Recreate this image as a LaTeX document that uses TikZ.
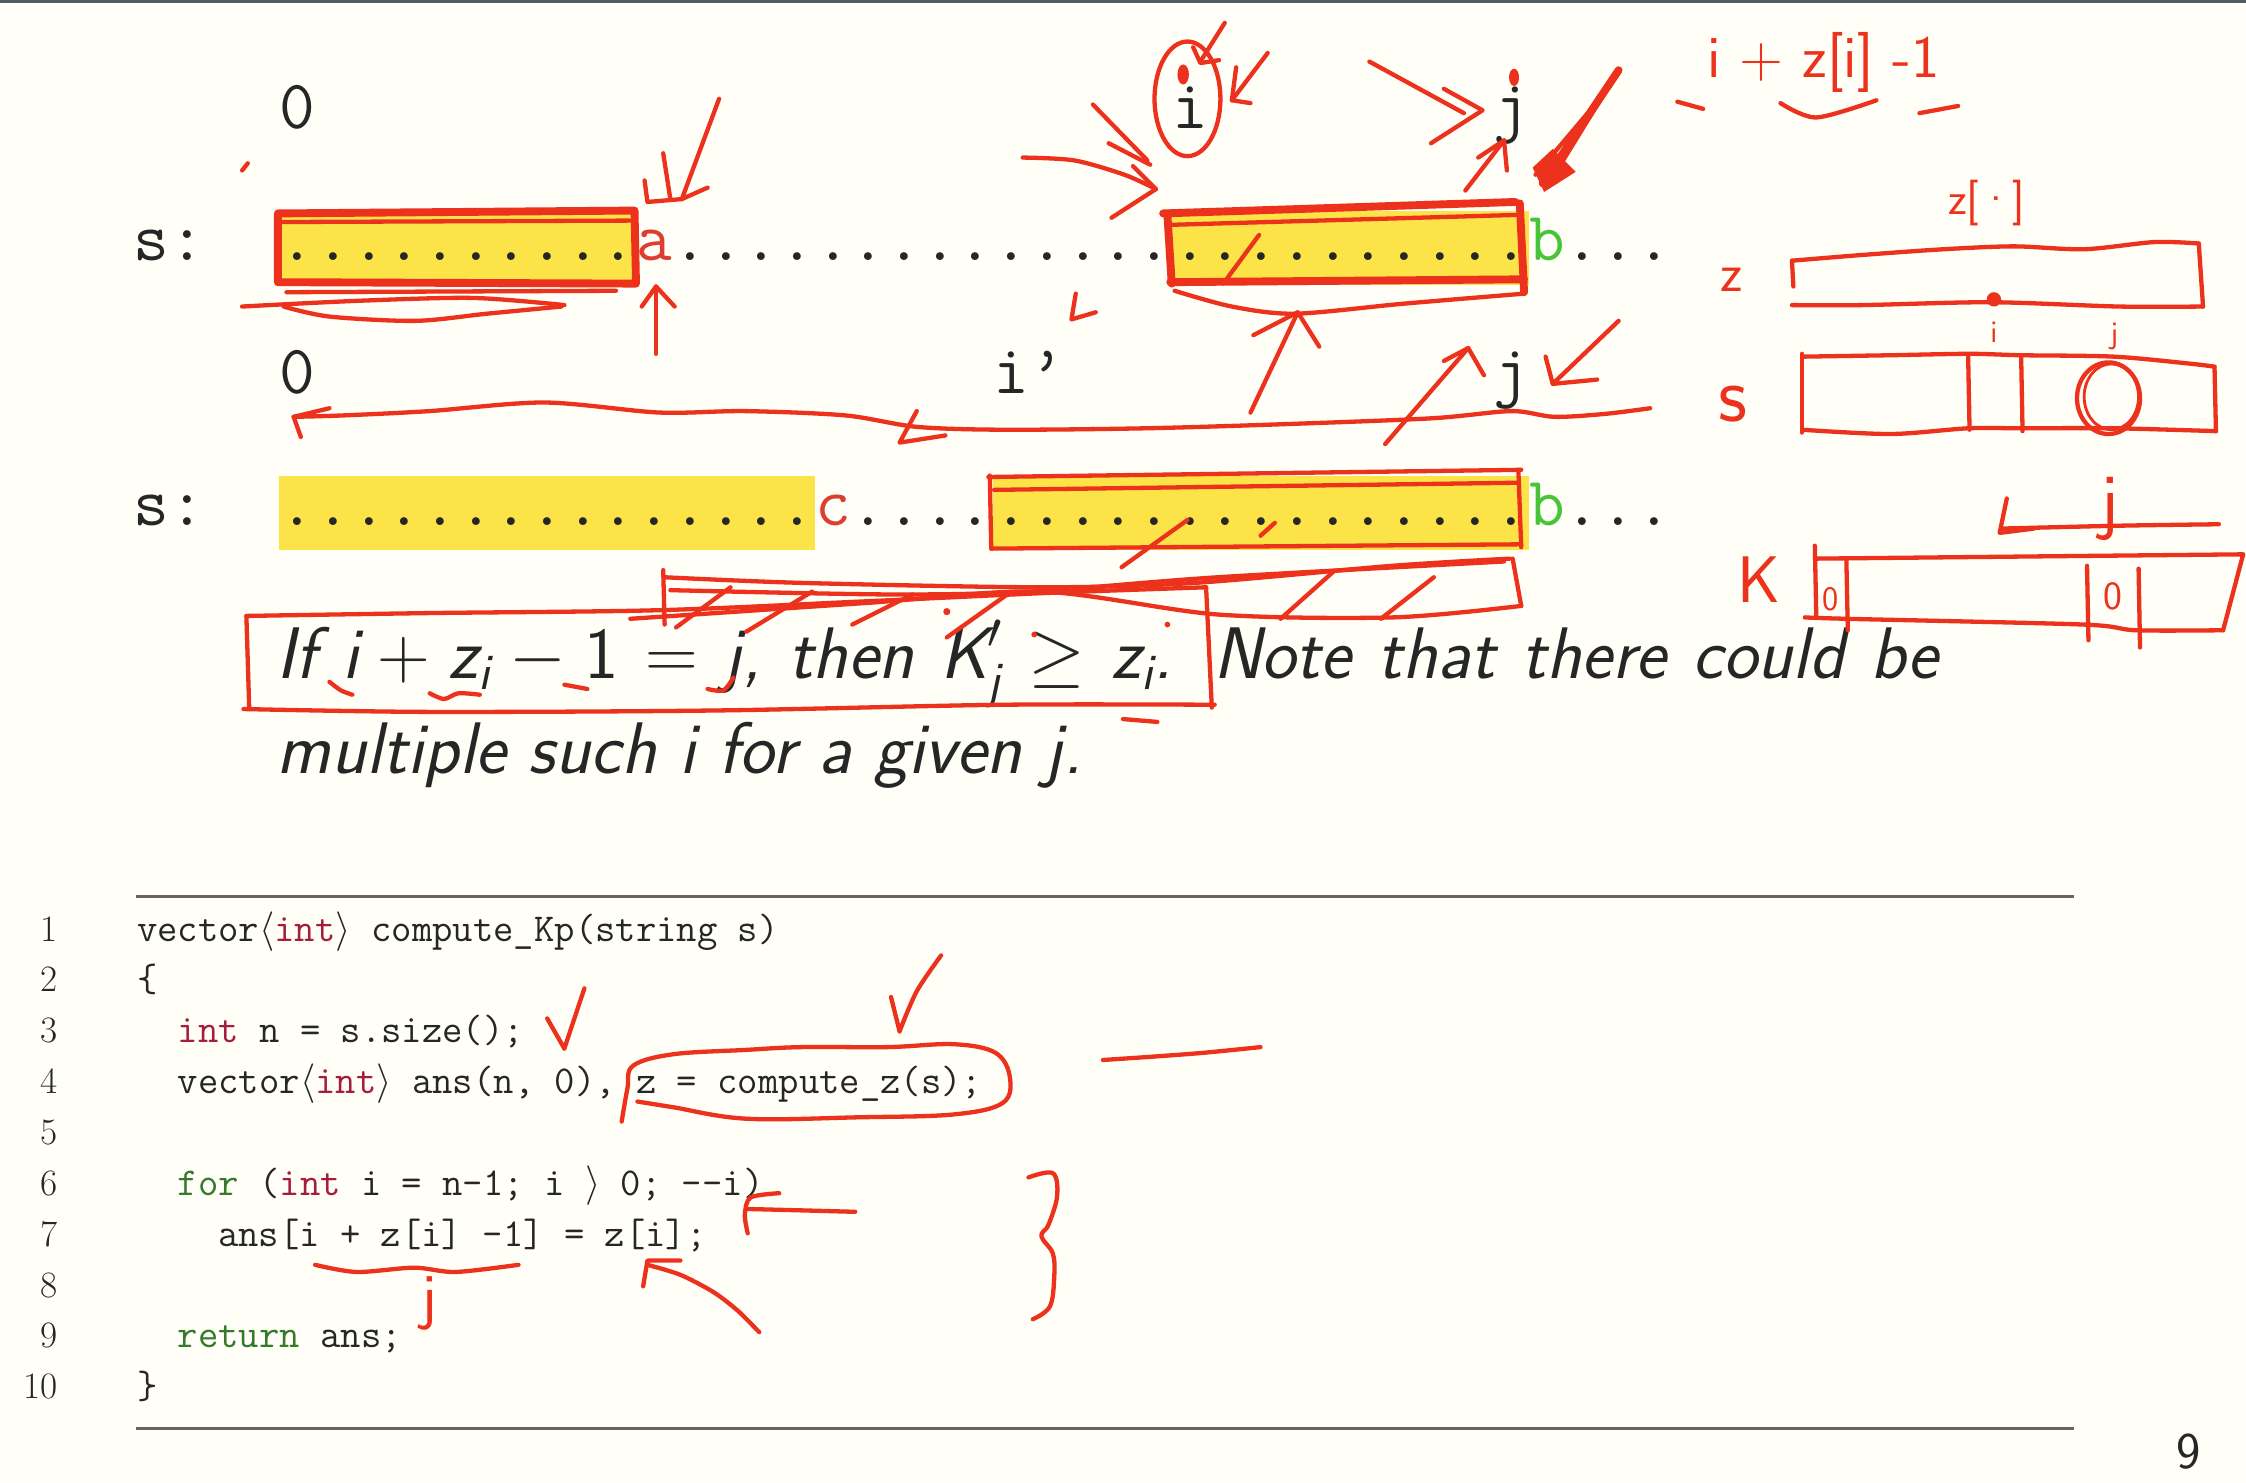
\RequirePackage{fix-cm}
\documentclass[tikz,border=0pt]{standalone}
\usepackage{amsmath}
\usepackage{fontspec}
\definecolor{bgc}{RGB}{255,254,247}
\definecolor{redink}{RGB}{236,50,28}
\definecolor{hlc}{RGB}{252,228,72}
\definecolor{txt}{RGB}{38,38,38}
\definecolor{ared}{RGB}{222,62,48}
\definecolor{bgreen}{RGB}{72,196,56}
\definecolor{kwred}{RGB}{165,28,62}
\definecolor{kwgreen}{RGB}{52,122,42}
\definecolor{rulec}{RGB}{100,100,100}
\definecolor{topc}{RGB}{80,92,98}
\newcommand{\sfv}[1]{\text{\sffamily\itshape #1}}
\newcommand{\sfu}[1]{\text{\sffamily\upshape #1}}
\newcount\dcnt
\newcommand{\dts}[1]{\dcnt=0 \loop\ifnum\dcnt<#1 .\advance\dcnt by 1 \repeat}
\begin{document}
\begin{tikzpicture}[x=1pt,y=-1pt,
  pen/.style={draw=redink,line width=3pt,line cap=round,line join=round},
  penb/.style={pen,line width=5.5pt},
  blob/.style={fill=redink},
  tt/.style={inner sep=0pt,anchor=base west,text=txt,font=\fontsize{48.4}{56}\selectfont\ttfamily},
  code/.style={inner sep=0pt,anchor=base west,text=txt,font=\fontsize{27.6}{30}\selectfont\ttfamily},
  lnum/.style={inner sep=0pt,anchor=base east,text=txt,font=\fontsize{26}{30}\selectfont\rmfamily},
  hand/.style={inner sep=0pt,text=redink},
  body/.style={inner sep=0pt,anchor=base west,text=txt,font=\fontsize{51}{60}\selectfont\sffamily\itshape}]
\useasboundingbox (0,0) rectangle (1568,1035);
\fill[bgc] (0,0) rectangle (1568,1035);
\fill[topc] (0,0) rectangle (1568,2);
% yellow highlights
\fill[hlc] (195,147) rectangle (444.2,199);
\fill[hlc] (818,147) rectangle (1067.2,199);
\fill[hlc] (195,332) rectangle (568.8,384);
\fill[hlc] (693.4,332) rectangle (1067.2,384);
% string rows
\node[tt] (s1) at (93,182) {s:};
\node[tt] (r1) at (195,182) {\dts{10}\textcolor{ared}{a}\dts{24}\textcolor{bgreen}{b}\dts{3}};
\node[tt] (z1) at (195,89.5) {0};
\node[tt] (i1) at (818,89.5) {i};
\node[tt] (j1) at (1042.3,89.5) {j};
\node[tt] (s2) at (93,367) {s:};
\node[tt] (r2) at (195,367) {\dts{15}\textcolor{ared}{c}\dts{4}\dts{15}\textcolor{bgreen}{b}\dts{3}};
\node[tt] (z2) at (195,275) {0};
\node[tt] (i2) at (693.4,275) {i’};
\node[tt] (j2) at (1042.3,275) {j};
% body text
\node[body] (t1) at (193,474) {\makebox[1160pt][s]{If $\sfv{i}+\sfv{z}_{\sfv{i}}-\sfu{1}=\sfv{j}$, then $\sfv{K}'_{\sfv{j}}\geq\sfv{z}_{\sfv{i}}$. Note that there could be}};
\node[body] (t2) at (193,540) {multiple such $\sfv{i}$ for a given $\sfv{j}$.};
% code block
\draw[rulec,line width=2pt] (95,626) -- (1448,626);
\draw[rulec,line width=2pt] (95,997) -- (1448,997);
\foreach \n in {1,...,10} \node[lnum] (ln\n) at (40.5,{657+(\n-1)*35.5}) {\n};
\node[code] (c1) at (95.5,657) {vector$\langle$\textcolor{kwred}{int}$\rangle$ compute\_Kp(string s)};
\node[code] (c2) at (95.5,692.5) {\{};
\node[code] (c3) at (124,728) {\textcolor{kwred}{int} n = s.size();};
\node[code] (c4) at (124,763.5) {vector$\langle$\textcolor{kwred}{int}$\rangle$ ans(n, 0), z = compute\_z(s);};
\node[code] (c6) at (124,834.5) {\textcolor{kwgreen}{for} (\textcolor{kwred}{int} i = n-1; i $\rangle$ 0; -{}-i)};
\node[code] (c7) at (152,870) {ans[i + z[i] -1] = z[i];};
\node[code] (c9) at (124,941) {\textcolor{kwgreen}{return} ans;};
\node[code] (c10) at (95.5,976.5) {\}};
\node[inner sep=0pt,anchor=base,text=txt,font=\fontsize{36}{40}\selectfont\sffamily] (pg) at (1528,1025) {9};
% ---------------- handwritten annotations ----------------
% box around first yellow block, row 1
\draw[penb] (194,149) -- (443,147) -- (444,198) -- (194,197) -- cycle;
\draw[pen] (196,155) -- (440,154);
\draw[pen] (200,204) -- (430,203);
\draw[pen] plot[smooth] coordinates {(169,214) (250,210) (330,208) (394,213)};
\draw[pen] plot[smooth] coordinates {(198,214) (230,221) (290,224) (340,219) (392,214)};
\draw[pen] (169,119) -- (173,114);
% arrow down to a
\draw[pen] (502,69) -- (476,139);
\draw[pen] (463,107) -- (468,139);
\draw[pen] (450,126) -- (452,141) -- (476,139) -- (494,131);
% arrow up under a
\draw[pen] (458,247) -- (458,200);
\draw[pen] (448,214) -- (458,200) -- (471,214);
% box around second yellow block, row 1
\draw[penb] (812,149) -- (1058,141);
\draw[pen] (816,157) -- (1060,150);
\draw[penb] (815,150) -- (818,198);
\draw[penb] (1061,142) -- (1064,204);
\draw[penb] (817,197) -- (1064,195);
\draw[pen] plot[smooth] coordinates {(820,203) (860,214) (904,219) (980,212) (1064,205)};
\draw[pen] (879,164) -- (854,198);
% small mark near i'
\draw[pen] (751,205) -- (748,223) -- (765,218);
% circle around top i and surrounding strokes
\draw[pen] (829,69) ellipse [x radius=23, y radius=40];
\fill[blob] (826,52) ellipse [x radius=4, y radius=7];
\draw[pen] (855,16) -- (838,43);
\draw[pen] (833,33) -- (838,44) -- (851,42);
\draw[pen] (885,37) -- (860,70);
\draw[pen] (863,47) -- (860,70) -- (873,72);
\draw[pen] (763,73) -- (801,112);
\draw[pen] (774,100) -- (803,115);
\draw[pen] plot[smooth] coordinates {(714,110) (750,112) (785,122) (807,132)};
\draw[pen] (791,116) -- (807,132) -- (776,152);
% arrows to top j
\draw[pen] (956,43) -- (1022,79);
\draw[pen] (1008,62) -- (1035,77) -- (999,100);
\fill[blob] (1057,54) ellipse [x radius=3.5, y radius=6];
\draw[pen] (1023,133) -- (1050,98);
\draw[pen] (1032,110) -- (1050,98) -- (1052,119);
\draw[penb] (1130,49) -- (1077,128);
\draw[pen] (1122,62) -- (1082,127);
\draw[pen] (1116,70) -- (1072,122);
\fill[blob] (1070,117) -- (1084,104) -- (1100,120) -- (1078,134) -- cycle;
% arrows from row-2 line up to box
\draw[pen] (873,288) -- (906,218);
\draw[pen] (875,234) -- (906,218) -- (921,242);
\draw[pen] (967,310) -- (1025,243);
\draw[pen] (1008,252) -- (1025,243) -- (1036,262);
\draw[pen] (1130,224) -- (1084,268);
\draw[pen] (1079,249) -- (1084,268) -- (1115,265);
% long leftward arrow under row-2 labels
\draw[pen] plot[smooth,tension=0.5] coordinates {(1152,285) (1120,289) (1085,291) (1055,287) (1000,292) (900,296) (800,299) (700,300) (640,298) (590,290) (520,287) (460,288) (380,281) (300,287) (240,290) (205,291)};
\draw[pen] (230,285) -- (205,291) -- (210,305);
\draw[pen] (640,287) -- (628,309) -- (660,304);
% box around second yellow block, row 2
\draw[pen] (690,333) -- (1062,328);
\draw[pen] (694,342) -- (1060,337);
\draw[pen] (691,332) -- (692,383);
\draw[pen] (1060,328) -- (1062,382);
\draw[pen] (692,383) -- (1062,380);
\draw[pen] (829,363) -- (783,396);
\draw[pen] (890,365) -- (880,374);
% hatched box
\draw[pen] (463,398) -- (464,436);
\draw[pen] plot[smooth] coordinates {(464,403) (562,407) (727,410) (833,407) (972,395) (1054,390)};
\draw[pen] plot[smooth] coordinates {(468,412) (620,415) (720,413) (850,403) (1050,392)};
\draw[pen] (1056,390) -- (1062,423);
\draw[pen] plot[smooth] coordinates {(440,432) (604,421) (727,413) (850,429) (973,431) (1062,423)};
\foreach \a/\b/\c/\d in {472/438/510/410, 521/441/567/413, 595/436/637/415, 661/445/706/413, 894/432/931/399, 964/432/1001/403}
  \draw[pen] (\a,\b) -- (\c,\d);
\fill[blob] (661,427) circle [radius=2.5];
\fill[blob] (815,436) circle [radius=2];
\fill[blob] (722,443) circle [radius=2];
% box around the first sentence
\draw[pen] (174,495) -- (172,430);
\draw[pen] plot[smooth] coordinates {(172,430) (300,428) (460,426) (600,420) (730,414) (842,410)};
\draw[pen] (842,410) -- (846,494);
\draw[pen] plot[smooth] coordinates {(848,492) (700,492) (500,496) (300,497) (170,495)};
% underlines in the sentence
\draw[pen] plot[smooth] coordinates {(230,476) (238,482) (246,485)};
\draw[pen] plot[smooth] coordinates {(300,484) (310,488) (320,484) (335,485)};
\draw[pen] (394,478) -- (410,481);
\draw[pen] plot[smooth] coordinates {(512,473) (505,482) (494,481)};
\draw[pen] (784,502) -- (808,504);
% top-right formula
\node[hand,anchor=base,font=\fontsize{42}{46}\selectfont\sffamily] (f1) at (1273,54) {i + z[i] -1};
\draw[pen] (1171,71) -- (1189,76);
\draw[pen] plot[smooth] coordinates {(1243,72) (1268,82) (1310,70)};
\draw[pen] (1340,79) -- (1367,74);
% right-hand sketch: z, s, K arrays
\node[hand,font=\fontsize{32}{36}\selectfont\sffamily] (zl) at (1387,142) {z[·]};
\node[hand,font=\fontsize{38}{40}\selectfont\sffamily] (zz) at (1209,195) {z};
\draw[pen] plot[smooth] coordinates {(1251,182) (1300,178) (1357,174) (1406,172) (1455,174) (1504,169) (1535,170)};
\draw[pen] (1535,170) -- (1538,214);
\draw[pen] plot[smooth] coordinates {(1538,214) (1479,214) (1390,211) (1300,213) (1251,213)};
\draw[pen] (1251,182) -- (1252,200);
\fill[blob] (1392,209) circle [radius=5];
\node[hand,font=\fontsize{22}{24}\selectfont\sffamily] (ii) at (1392,232) {i};
\node[hand,font=\fontsize{22}{24}\selectfont\sffamily] (jj) at (1476,235) {j};
\node[hand,font=\fontsize{56}{60}\selectfont\sffamily] (ss) at (1210,282) {s};
\draw[pen] plot[smooth] coordinates {(1258,249) (1320,248) (1375,247) (1411,248) (1476,249) (1530,254) (1546,256)};
\draw[pen] (1546,256) -- (1547,301);
\draw[pen] plot[smooth] coordinates {(1547,301) (1476,299) (1411,299) (1374,299) (1320,303) (1258,300)};
\draw[pen] (1258,247) -- (1258,302);
\draw[pen] (1374,248) -- (1375,300);
\draw[pen] (1411,248) -- (1412,301);
\draw[pen] (1472,278) ellipse [x radius=22, y radius=25];
\draw[pen,line width=2pt] (1474,277) ellipse [x radius=19, y radius=23];
\node[hand,anchor=base,font=\fontsize{52}{56}\selectfont\sffamily] (jk) at (1473,367) {j};
\draw[pen] plot[smooth] coordinates {(1549,366) (1480,367) (1398,369)};
\draw[pen] (1401,348) -- (1396,372) -- (1420,369);
\node[hand,font=\fontsize{46}{50}\selectfont\sffamily] (kk) at (1228,405) {K};
\draw[pen] (1267,390) -- (1566,387) -- (1552,440);
\draw[pen] plot[smooth] coordinates {(1552,440) (1491,440) (1454,436) (1289,432) (1260,431)};
\draw[pen] (1267,381) -- (1268,431);
\draw[pen] (1289,391) -- (1290,440);
\draw[pen] (1457,395) -- (1458,447);
\draw[pen] (1493,397) -- (1494,452);
\node[hand,font=\fontsize{24}{28}\selectfont\sffamily] (k0a) at (1278,418) {0};
\node[hand,font=\fontsize{28}{30}\selectfont\sffamily] (k0b) at (1475,416) {0};
% code annotations
\draw[pen] (408,690) -- (394,732);
\draw[pen] (382,711) -- (394,732);
\draw[pen] plot[smooth] coordinates {(657,667) (640,692) (628,720)};
\draw[pen] (622,696) -- (628,720);
\draw[pen] plot[smooth,tension=0.6] coordinates {(434,783) (438,760) (442,744) (470,736) (520,733) (560,731) (620,731) (666,729) (695,735) (705,752) (700,770) (666,778) (600,780) (521,781) (470,773) (445,769)};
\draw[pen] plot[smooth] coordinates {(770,740) (800,738) (840,735) (880,731)};
\draw[pen] plot[smooth] coordinates {(597,846) (560,845) (521,844)};
\draw[pen] plot[smooth] coordinates {(544,833) (524,836) (520,848) (522,861)};
\draw[pen] plot[smooth,tension=0.6] coordinates {(718,822) (735,819) (738,835) (732,855) (727,863) (735,875) (736,891) (733,912) (721,921)};
\draw[pen] plot[smooth] coordinates {(220,883) (249,888) (289,885) (318,888) (362,883)};
\node[hand,anchor=base,font=\fontsize{44}{48}\selectfont\sffamily] (jc) at (300,920) {j};
\draw[pen] plot[smooth] coordinates {(530,930) (515,915) (498,902) (475,890) (452,883)};
\draw[pen] (449,898) -- (452,880) -- (475,880);
\end{tikzpicture}
\end{document}
